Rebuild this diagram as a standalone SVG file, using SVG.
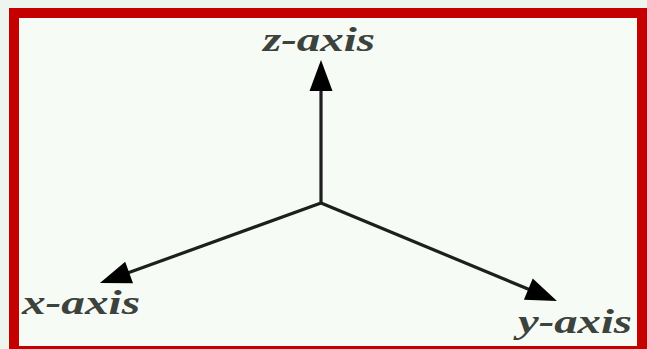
<svg xmlns="http://www.w3.org/2000/svg" width="647" height="349" viewBox="0 0 647 349">
<style>
.lbl{font-family:"Liberation Serif","Times New Roman",serif;font-style:italic;font-weight:bold;font-size:34px;fill:#3c423c}
.axis{stroke:#1e1e1e;stroke-width:3.2;fill:none}
</style>
<defs>
<marker id="ah" markerUnits="userSpaceOnUse" markerWidth="34" markerHeight="24" refX="20" refY="11.5" orient="auto" overflow="visible">
<path d="M0,0 L31,11.5 L0,23 z" fill="#000"/>
</marker>
</defs>
<rect x="0" y="0" width="647" height="349" fill="#eef5ee"/>
<rect x="14" y="13" width="628" height="338" fill="#f7fbf5" stroke="#c40000" stroke-width="10"/>
<g id="connectors">
<line class="axis" x1="321" y1="203" x2="321" y2="71" marker-end="url(#ah)"/>
<line class="axis" x1="321" y1="203" x2="110.3" y2="279.3" marker-end="url(#ah)"/>
<line class="axis" x1="321" y1="203" x2="546.8" y2="296.8" marker-end="url(#ah)"/>
</g>
<g id="z-axis"><text class="lbl" x="263" y="51" textLength="112" lengthAdjust="spacingAndGlyphs">z-axis</text></g>
<g id="x-axis"><text class="lbl" x="22" y="314" textLength="118" lengthAdjust="spacingAndGlyphs">x-axis</text></g>
<g id="y-axis"><text class="lbl" x="518" y="333" textLength="114" lengthAdjust="spacingAndGlyphs">y-axis</text></g>
</svg>
